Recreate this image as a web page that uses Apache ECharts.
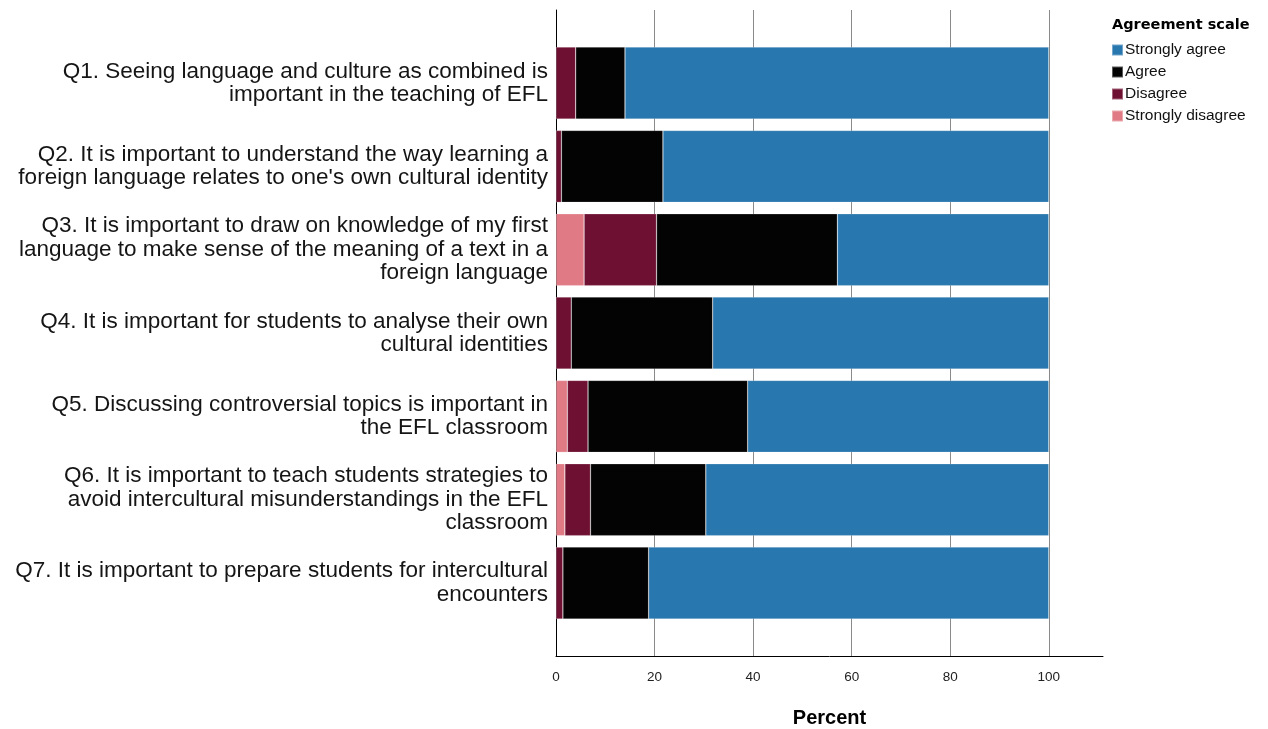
<!DOCTYPE html>
<html>
<head>
<meta charset="utf-8">
<script src="https://cdn.jsdelivr.net/npm/echarts@6/dist/echarts.min.js"></script>
<style>html,body{margin:0;padding:0;background:#fff}#c{width:1268px;height:729px}</style>
</head>
<body>
<div id="c"></div>
<script>
const categories = [
  "Q1. Seeing language and culture as combined is\nimportant in the teaching of EFL",
  "Q2. It is important to understand the way learning a\nforeign language relates to one's own cultural identity",
  "Q3. It is important to draw on knowledge of my first\nlanguage to make sense of the meaning of a text in a\nforeign language",
  "Q4. It is important for students to analyse their own\ncultural identities",
  "Q5. Discussing controversial topics is important in\nthe EFL classroom",
  "Q6. It is important to teach students strategies to\navoid intercultural misunderstandings in the EFL\nclassroom",
  "Q7. It is important to prepare students for intercultural\nencounters"
];
const stronglyDisagree = [0, 0, 5.7, 0, 2.3, 1.8, 0];
const disagree = [4.0, 1.1, 14.7, 3.1, 4.2, 5.2, 1.4];
const agree = [10.0, 20.6, 36.7, 28.7, 32.4, 23.4, 17.4];
const stronglyAgree = [86.0, 78.3, 42.9, 68.2, 61.1, 69.6, 81.2];
const xTicks = [0, 20, 40, 60, 80, 100];

const font = "Liberation Sans, Arial, sans-serif";
const chart = echarts.init(document.getElementById('c'), null, {renderer: 'canvas'});
const seriesDefs = [
  {name: 'Strongly disagree', data: stronglyDisagree, color: '#e07b86'},
  {name: 'Disagree', data: disagree, color: '#6e1031'},
  {name: 'Agree', data: agree, color: '#030303'},
  {name: 'Strongly agree', data: stronglyAgree, color: '#2877ae'}
];
chart.setOption({
  animation: false,
  backgroundColor: '#fff',
  title: {
    text: 'Agreement scale', left: 1107, top: 13,
    textStyle: {fontFamily: "DejaVu Sans, sans-serif", fontWeight: 'bold', fontSize: 14.5, color: '#000'}
  },
  legend: {
    data: ['Strongly agree', 'Agree', 'Disagree', 'Strongly disagree'],
    orient: 'vertical', left: 1106, top: 37, itemWidth: 11, itemHeight: 11, itemGap: 6,
    icon: 'rect',
    textStyle: {fontFamily: font, fontSize: 15.5, lineHeight: 15, color: '#111', padding: [0, 0, 0, -3]}
  },
  grid: [
    {left: 556, right: 165, top: 10, bottom: 73, containLabel: false, outerBoundsMode: 'none'},
    {left: 556, right: 165, top: 41.4, bottom: 104.3, containLabel: false, outerBoundsMode: 'none'}
  ],
  xAxis: [
    {
      gridIndex: 0, type: 'value', min: 0, max: 111, interval: 20,
      axisLine: {show: true, lineStyle: {color: '#000', width: 1}},
      axisTick: {show: false},
      axisLabel: {fontFamily: font, fontSize: 13.5, color: '#222', margin: 14,
        showMaxLabel: false,
        formatter: v => xTicks.includes(v) ? String(v) : ''},
      splitLine: {show: true, showMaxLine: false, lineStyle: {color: '#8a8a8a', width: 1}},
      name: 'Percent', nameLocation: 'middle', nameGap: 52,
      nameTextStyle: {fontFamily: font, fontWeight: 'bold', fontSize: 20, color: '#000'}
    },
    {
      gridIndex: 1, type: 'value', min: 0, max: 111, show: false
    }
  ],
  yAxis: [
    {
      gridIndex: 0, type: 'value', min: 0, max: 1,
      axisLine: {show: true, lineStyle: {color: '#000', width: 1}},
      axisTick: {show: false}, axisLabel: {show: false}, splitLine: {show: false}
    },
    {
      gridIndex: 1, type: 'category', data: categories, inverse: true,
      axisLine: {show: false}, axisTick: {show: false}, splitLine: {show: false},
      axisLabel: {fontFamily: font, fontSize: 22.5, color: '#151515', lineHeight: 23.5,
        align: 'right', margin: 8}
    }
  ],
  series: seriesDefs.map(s => ({
    name: s.name, type: 'bar', stack: 'all', xAxisIndex: 1, yAxisIndex: 1,
    data: s.data, barWidth: 72,
    itemStyle: {color: s.color, borderColor: 'rgba(255,255,255,0.35)', borderWidth: 0.6}
  }))
});
</script>
</body>
</html>
